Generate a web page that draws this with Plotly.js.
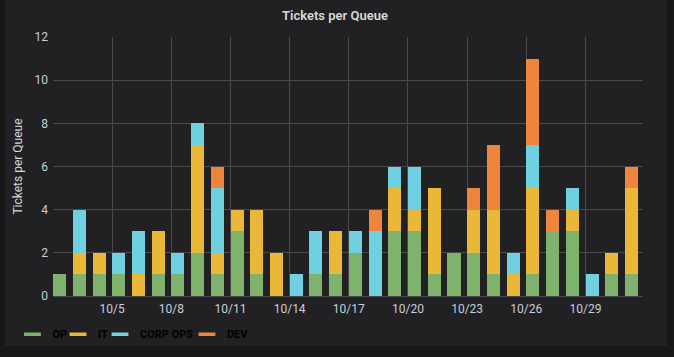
<!DOCTYPE html>
<html>
<head>
<meta charset="utf-8">
<script src="https://cdn.plot.ly/plotly-3.0.1.min.js"></script>
<style>
  html, body { margin:0; padding:0; background:#161719; overflow:hidden; }
  #panel { position:absolute; left:5px; top:0; width:662px; height:346px; background:#212124; }
  #chart { position:absolute; left:0; top:0; width:674px; height:357px; }
</style>
</head>
<body>
<div id="panel"></div>
<div id="chart"></div>
<script>
// Days 10/2 .. 10/31 (bars stamped at 08:00 of each day)
const days = ["2019-10-02","2019-10-03","2019-10-04","2019-10-05","2019-10-06","2019-10-07",
  "2019-10-08","2019-10-09","2019-10-10","2019-10-11","2019-10-12","2019-10-13","2019-10-14",
  "2019-10-15","2019-10-16","2019-10-17","2019-10-18","2019-10-19","2019-10-20","2019-10-21",
  "2019-10-22","2019-10-23","2019-10-24","2019-10-25","2019-10-26","2019-10-27","2019-10-28",
  "2019-10-29","2019-10-30","2019-10-31"];
const stampTime = "08:00";

const seriesNames = ["OP", "IT", "CORP OPS", "DEV"];
const green  = [1,1,1,1,0,1,1,2,1,3,1,0,0,1,1,2,0,3,3,1,2,2,1,0,1,3,3,0,1,1];
const yellow = [0,1,1,0,1,2,0,5,1,1,3,2,0,0,2,0,0,2,1,4,0,2,3,1,4,0,1,0,1,4];
const blue   = [0,2,0,1,2,0,1,1,3,0,0,0,1,2,0,1,3,1,2,0,0,0,0,1,2,0,1,1,0,0];
const orange = [0,0,0,0,0,0,0,0,1,0,0,0,0,0,0,0,1,0,0,0,0,1,3,0,4,1,0,0,0,1];

const tickDays   = ["2019-10-05","2019-10-08","2019-10-11","2019-10-14","2019-10-17",
                    "2019-10-20","2019-10-23","2019-10-26","2019-10-29"];
const tickLabels = ["10/5","10/8","10/11","10/14","10/17","10/20","10/23","10/26","10/29"];
const yTicks = [0,2,4,6,8,10,12];

const colors = ["#7eb26d", "#eab839", "#6ed0e0", "#ef843c"];
const values = [green, yellow, blue, orange];
const xs = days.map(d => d + " " + stampTime);
const barWidthMs = 0.66 * 86400000;
const legendIds = ["legend", "legend2", "legend3", "legend4"];
const legendX = [0.0185, 0.0861, 0.1484, 0.2774];

const traces = [];
values.forEach((v, i) => {
  traces.push({
    type: "bar", x: xs, y: v, name: seriesNames[i],
    width: barWidthMs, showlegend: false, legendgroup: "g" + i,
    marker: { color: colors[i], line: { width: 0 } },
    hoverinfo: "x+y+name"
  });
});
// legend entries drawn as short horizontal strokes like the original
values.forEach((v, i) => {
  traces.push({
    type: "scatter", mode: "markers", x: [null], y: [null], name: seriesNames[i],
    legendgroup: "g" + i, showlegend: true, legend: legendIds[i],
    marker: { symbol: "line-ew", size: 12, color: colors[i], line: { color: colors[i], width: 3.5 } }
  });
});

const layout = {
  width: 674, height: 357,
  paper_bgcolor: "rgba(0,0,0,0)", plot_bgcolor: "rgba(0,0,0,0)",
  margin: { l: 53, r: 31, t: 37, b: 61, pad: 0 },
  barmode: "stack",
  font: { family: "Roboto, 'Open Sans', sans-serif", size: 12, color: "#c7d0d9" },
  title: {
    text: "Tickets per Queue", x: 0.497, xref: "container", y: 0.957, yref: "container",
    xanchor: "center", yanchor: "middle",
    font: { family: "Roboto, sans-serif", size: 13, color: "#d8d9da", weight: 600 }
  },
  xaxis: {
    type: "date",
    range: ["2019-10-02 00:00", "2019-10-31 22:00"],
    tickmode: "array", tickvals: tickDays, ticktext: tickLabels,
    showgrid: true, gridcolor: "#4a4a4d", gridwidth: 1,
    zeroline: false, showline: false, ticks: "",
    ticklabelstandoff: 4,
    tickfont: { size: 12, color: "#c7d0d9" }
  },
  yaxis: {
    range: [0, 12], tickmode: "array", tickvals: yTicks,
    showgrid: true, gridcolor: "#4a4a4d", gridwidth: 1,
    zeroline: true, zerolinecolor: "#4a4a4d", zerolinewidth: 1,
    showline: false, ticks: "", ticklabelstandoff: 4,
    tickfont: { size: 12, color: "#c7d0d9" },
    title: { text: "Tickets per Queue", standoff: 9, font: { size: 12, color: "#d8d9da" } }
  },
  showlegend: true
};
legendIds.forEach((id, i) => {
  layout[id] = {
    orientation: "h", xref: "container", yref: "container",
    x: legendX[i], y: 0.064, xanchor: "left", yanchor: "middle",
    bgcolor: "rgba(0,0,0,0)", borderwidth: 0,
    font: { size: 11, color: "#000000", weight: 700 },
    itemwidth: 30
  };
});

Plotly.newPlot("chart", traces, layout, { displayModeBar: false, staticPlot: true });
</script>
</body>
</html>
